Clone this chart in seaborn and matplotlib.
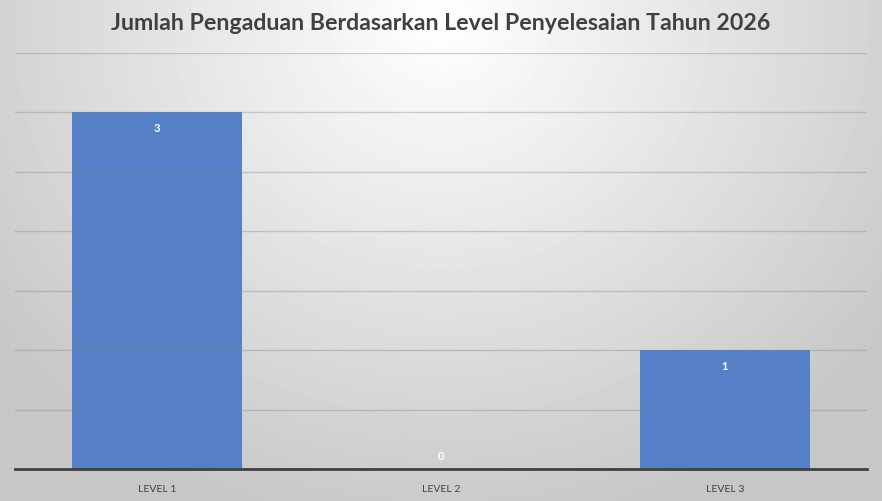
import matplotlib
matplotlib.use("Agg")
import matplotlib.pyplot as plt
import seaborn as sns
import numpy as np
import pandas as pd

# data
levels = ["LEVEL 1", "LEVEL 2", "LEVEL 3"]
jumlah = [3, 0, 1]
title = "Jumlah Pengaduan Berdasarkan Level Penyelesaian Tahun 2026"

df = pd.DataFrame({"level": levels, "jumlah": jumlah})

sns.set_theme(style="white")
plt.rcParams["font.family"] = ["Lato", "DejaVu Sans"]

fig = plt.figure(figsize=(8.82, 5.02), dpi=100)

# radial gradient background, light at top centre, gray at edges
bg = fig.add_axes([0, 0, 1, 1], zorder=-10)
yy, xx = np.mgrid[0:502, 0:882]
r = np.sqrt(((xx - 441) / 560.0) ** 2 + ((yy - 20) / 520.0) ** 2)
shade = np.clip(1.0 - 0.22 * r, 0.78, 1.0)
bg.imshow(shade, cmap="gray", vmin=0, vmax=1, aspect="auto", interpolation="bilinear")
bg.axis("off")

ax = fig.add_axes([15 / 882, 32 / 502, 852 / 882, 416 / 502])
ax.patch.set_alpha(0)

sns.barplot(data=df, x="level", y="jumlah", color="#5580c8", width=0.6,
            saturation=1, linewidth=0, edgecolor="none", ax=ax, zorder=2)

ax.set_ylim(0, 3.5)
ax.set_yticks(np.arange(0, 3.51, 0.5))
ax.yaxis.grid(True, color="#808080", alpha=0.35, linewidth=1, zorder=3)
ax.set_axisbelow(False)
ax.tick_params(axis="y", left=False, labelleft=False)
ax.tick_params(axis="x", bottom=False, labelsize=7.5, colors="#404040", pad=5)
ax.set_xlabel("")
ax.set_ylabel("")
for s in ["left", "right", "top"]:
    ax.spines[s].set_visible(False)
ax.spines["bottom"].set_color("#404040")
ax.spines["bottom"].set_linewidth(2)
ax.spines["bottom"].set_zorder(5)

for i, v in enumerate(jumlah):
    off = -11 if v > 0 else 10
    ax.annotate(str(v), (i, v), xytext=(0, off), textcoords="offset points",
                ha="center", va="center", color="white", fontsize=8,
                fontweight="bold", zorder=6)

fig.text(0.5, 1 - 23 / 502, title, ha="center", va="center", fontsize=16.7,
         fontweight="bold", color="#404040")

fig.savefig("out.png", dpi=100)
